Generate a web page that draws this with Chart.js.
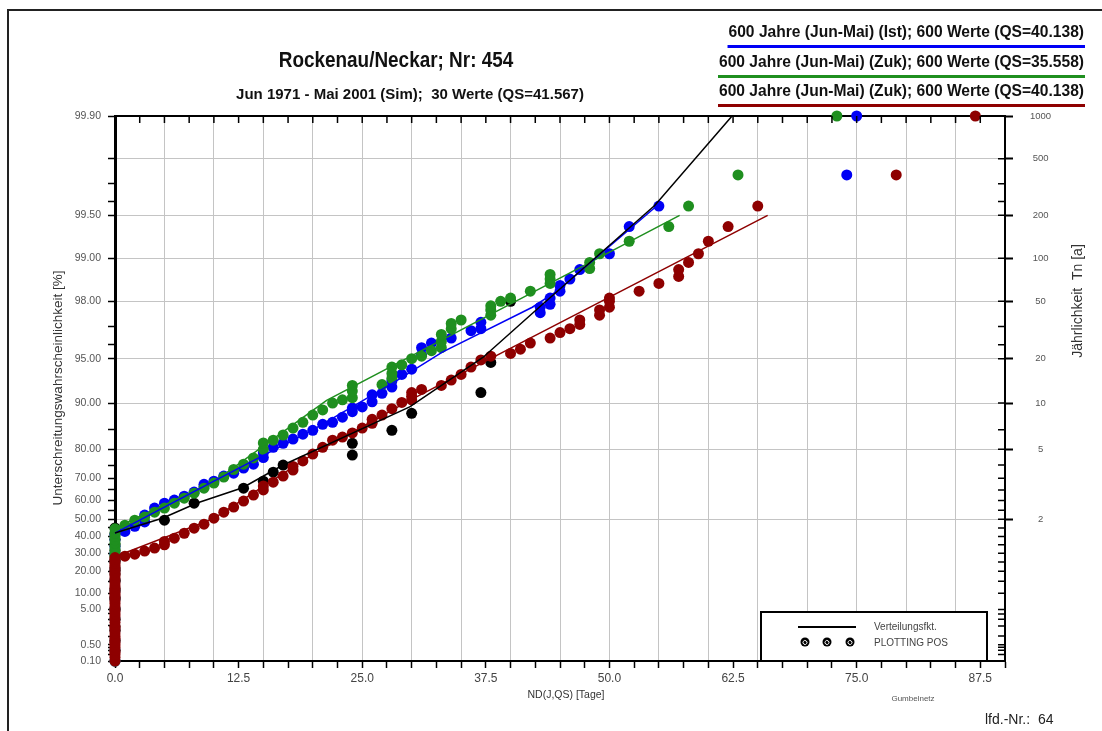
<!DOCTYPE html>
<html>
<head>
<meta charset="utf-8">
<script src="https://cdn.jsdelivr.net/npm/chart.js@4.4.0/dist/chart.umd.min.js"></script>
<style>
  html, body { margin: 0; padding: 0; background: #fff; }
  #wrap { position: relative; width: 1102px; height: 731px; }
</style>
</head>
<body>
<div id="wrap"><canvas id="gumbelCanvas" width="1102" height="731"></canvas></div>
<script>
// probability axis (Unterschreitungswahrscheinlichkeit, %)
const probTicks = [0.1, 0.2, 0.3, 0.4, 0.5, 1, 2, 3, 4, 5, 10, 15, 20, 25, 30, 35, 40, 45, 50,
  55, 60, 65, 70, 75, 80, 85, 90, 95, 96, 97, 98, 99, 99.5, 99.6, 99.7, 99.8, 99.9];
const probLabels = [0.1, 0.5, 5, 10, 20, 30, 40, 50, 60, 70, 80, 90, 95, 98, 99, 99.5, 99.9];
const gridProbs = [50, 80, 90, 95, 98, 99, 99.5, 99.8];
// Jaehrlichkeit axis
const returnProbs = [50, 80, 90, 95, 98, 99, 99.5, 99.8, 99.9];
const returnLabels = ['2', '5', '10', '20', '50', '100', '200', '500', '1000'];

// Sim 1971-2001, 30 Werte (black)
const simZeroProbs = [1.9, 5.2, 8.5, 11.8, 15.2, 18.5, 21.8, 25.1, 28.5, 31.8, 35.1, 38.4, 41.7, 45.0];
const simDays  = [5, 8, 13, 15, 16, 17, 24, 24, 28, 30, 37, 38, 40];
const simProbs = [49.5, 58.6, 65.8, 68.8, 72.4, 75.0, 78.3, 81.7, 84.9, 88.3, 91.5, 94.7, 98.0];
const simFitDays  = [0, 4.85, 8.3, 12.9, 17, 29.8, 37.2, 42.9, 54.6, 62.4];
const simFitProbs = [42, 50.7, 58.7, 66.0, 75.0, 89.4, 95.1, 97.8, 99.575, 99.9];

// 600 Jahre (Ist) (blue)
const istZeroProbs = [0.1, 0.3, 0.7, 1.5, 3, 5, 8, 11, 15.5, 20.5, 26, 30, 34, 38, 41];
const istDays  = [1, 2, 3, 3, 4, 5, 6, 7, 8, 9, 9, 10, 11, 12, 13, 14, 15, 15, 16, 17, 18, 19, 20,
  21, 22, 23, 24, 24, 25, 26, 26, 27, 28, 28, 29, 30, 31, 31, 32, 34, 36, 37, 37, 43, 43, 44, 44,
  45, 45, 46, 47, 50, 52, 55, 74, 75];
const istProbs = [43.0, 46.0, 48.5, 52.3, 56.1, 58.6, 60.2, 62.1, 64.0, 66.5, 67.5, 68.8, 70.9, 72.0,
  73.9, 75.3, 77.5, 79.0, 80.6, 81.7, 82.8, 84.0, 84.9, 86.2, 86.6, 87.6, 88.6, 89.2, 89.4, 90.2,
  91.2, 91.4, 92.2, 92.9, 93.6, 94.1, 95.3, 95.8, 96.1, 96.4, 96.8, 96.9, 97.2, 97.6, 97.8, 97.9,
  98.1, 98.3, 98.45, 98.6, 98.8, 99.07, 99.40, 99.57, 99.74, 99.9];
const istFitDays  = [0, 10, 20, 28, 33.1, 42.2, 44.7, 54.6];
const istFitProbs = [42, 68.8, 85, 92.6, 95.5, 97.8, 98.3, 99.56];

// 600 Jahre (Zuk) QS=35.558 (green)
const zuk1ZeroProbs = [0.1, 0.3, 0.7, 1.5, 3, 5, 8, 11, 15.5, 20.5, 26, 28, 30, 32, 34, 36, 38,
  40, 42, 44.5];
const zuk1Days  = [1, 2, 3, 4, 5, 6, 7, 8, 9, 10, 11, 12, 13, 14, 15, 15, 16, 17, 18, 19, 20, 21,
  22, 23, 24, 24, 24, 27, 28, 28, 28, 29, 30, 31, 32, 33, 33, 33, 34, 34, 35, 38, 38, 38, 39, 40,
  42, 44, 44, 44, 48, 48, 49, 52, 56, 58, 63, 73];
const zuk1Probs = [46.6, 49.5, 51.2, 53.9, 56.1, 58.6, 61.1, 63.5, 65.8, 68.0, 70.5, 73.4, 75.3, 77.4,
  80.0, 81.8, 82.5, 83.8, 85.4, 86.6, 88.0, 88.9, 90.0, 90.5, 90.8, 91.7, 92.4, 92.5, 93.2, 93.7,
  94.3, 94.5, 95.0, 95.2, 95.6, 95.8, 96.2, 96.6, 96.9, 97.15, 97.3, 97.5, 97.7, 97.85, 98.0, 98.1,
  98.3, 98.5, 98.6, 98.7, 98.82, 98.93, 99.07, 99.24, 99.40, 99.57, 99.74, 99.9];
const zuk1FitDays  = [0, 10, 21.4, 57.1];
const zuk1FitProbs = [45, 68.5, 90.4, 99.5];

// 600 Jahre (Zuk) QS=40.138 (dark red)
const zuk2ZeroProbs = [0.1, 0.15, 0.2, 0.25, 0.3, 0.4, 0.5, 0.6, 0.7, 0.85, 1, 1.25, 1.5, 1.75, 2,
  2.5, 3, 3.5, 4, 4.5, 5, 5.7, 6.5, 7.2, 8, 8.7, 9.5, 10.2, 11, 12, 13, 14.2, 15.5, 16.7, 18, 19.2,
  20.5, 21.7, 23, 24.2, 25.5, 26.5, 27.5];
const zuk2Days  = [1, 2, 3, 4, 5, 5, 6, 7, 8, 9, 10, 11, 12, 13, 14, 15, 15, 16, 17, 18, 18, 19, 20,
  21, 22, 23, 24, 25, 26, 26, 27, 28, 29, 30, 30, 30, 31, 33, 34, 35, 36, 37, 38, 40, 41, 42, 44,
  45, 46, 47, 47, 49, 49, 50, 50, 50, 53, 55, 57, 57, 58, 59, 60, 62, 65, 79, 87];
const zuk2Probs = [28.3, 29.5, 31.3, 33.1, 35.0, 37.0, 39.0, 41.9, 44.9, 47.2, 50.6, 53.9, 56.6, 59.7,
  62.6, 65.0, 66.8, 68.4, 70.9, 73.2, 74.5, 76.4, 78.6, 80.6, 82.5, 83.3, 84.3, 85.4, 86.4, 87.2,
  88.0, 89.1, 90.1, 90.5, 91.0, 91.5, 91.9, 92.4, 93.0, 93.6, 94.3, 94.9, 95.2, 95.4, 95.7, 96.1,
  96.4, 96.7, 96.9, 97.1, 97.3, 97.5, 97.7, 97.8, 98.0, 98.1, 98.3, 98.5, 98.66, 98.8, 98.93, 99.07,
  99.24, 99.40, 99.57, 99.74, 99.9];
const zuk2FitDays  = [0, 10, 20, 29.8, 66];
const zuk2FitProbs = [28, 50.5, 78.5, 90.4, 99.5];

const toPoints = (days, probs) => days.map((d, i) => ({ x: d, y: probs[i] }));
const zeroColumn = probs => probs.map(p => ({ x: 0, y: p }));

const BLUE = '#0000f5';
const GREEN = '#1f8f1f';
const RED = '#8e0000';
const BLACK = '#000000';

/**
 * Gumbel probability scale: value in % -> reduced variate -ln(-ln(P))
 */
const gumbel = p => -Math.log(-Math.log(p / 100));

class GumbelScale extends Chart.Scale {
  determineDataLimits() {
    this.min = this.options.min;
    this.max = this.options.max;
  }
  buildTicks() {
    return probTicks.map(value => ({ value }));
  }
  configure() {
    super.configure();
    this._gLo = gumbel(this.min);
    this._gHi = gumbel(this.max);
  }
  getPixelForValue(value) {
    return this.getPixelForDecimal((gumbel(value) - this._gLo) / (this._gHi - this._gLo));
  }
  getValueForPixel(pixel) {
    const g = this._gLo + this.getDecimalForPixel(pixel) * (this._gHi - this._gLo);
    return 100 * Math.exp(-Math.exp(-g));
  }
  getLabelForValue(value) {
    return String(value);
  }
}
GumbelScale.id = 'gumbel';
GumbelScale.defaults = {};
Chart.register(GumbelScale);

const dots = (data, color, order) => ({
  data,
  backgroundColor: color,
  borderColor: color,
  borderWidth: 0,
  pointRadius: 5.5,
  pointHoverRadius: 5.5,
  showLine: false,
  clip: false,
  order,
});

const fitLine = (data, color, order) => ({
  data,
  borderColor: color,
  borderWidth: 1.5,
  pointRadius: 0,
  showLine: true,
  fill: false,
  tension: 0,
  clip: false,
  order,
});

/* frame, inner ticks, titles and the small legend box */
const gumbelDecor = {
  id: 'gumbelDecor',
  beforeDraw(chart) {
    const { ctx, width, height } = chart;
    ctx.save();
    ctx.fillStyle = '#fff';
    ctx.fillRect(0, 0, width, height);
    ctx.strokeStyle = '#222';
    ctx.lineWidth = 2;
    ctx.beginPath();
    ctx.moveTo(8, height);
    ctx.lineTo(8, 10);
    ctx.lineTo(width, 10);
    ctx.stroke();
    ctx.restore();
  },
  afterDraw(chart) {
    const { ctx, chartArea } = chart;
    const { left, right, top, bottom } = chartArea;
    const top2 = chart.scales.x2;
    const right2 = chart.scales.y2;
    ctx.save();

    // inward ticks on top and right axes
    ctx.strokeStyle = '#000';
    ctx.lineWidth = 1.5;
    ctx.beginPath();
    top2.ticks.forEach(t => {
      const px = top2.getPixelForValue(t.value);
      if (px <= left + 1 || px >= right - 1) return;
      ctx.moveTo(px, top);
      ctx.lineTo(px, top + 7);
    });
    right2.ticks.forEach(t => {
      const py = right2.getPixelForValue(t.value);
      ctx.moveTo(right - 7, py);
      ctx.lineTo(right, py);
    });
    ctx.stroke();

    // titles
    ctx.fillStyle = '#111';
    ctx.textAlign = 'center';
    ctx.textBaseline = 'middle';
    ctx.save();
    ctx.translate(396, 61);
    ctx.scale(0.86, 1);
    ctx.font = 'bold 22px "Liberation Sans", Arial, sans-serif';
    ctx.fillText('Rockenau/Neckar; Nr: 454', 0, 0);
    ctx.restore();
    ctx.font = 'bold 15px "Liberation Sans", Arial, sans-serif';
    ctx.fillText('Jun 1971 - Mai 2001 (Sim);  30 Werte (QS=41.567)', 410, 95);

    // series legend top right
    const legendRows = [
      ['600 Jahre (Jun-Mai) (Ist); 600 Werte (QS=40.138)', BLUE, 33],
      ['600 Jahre (Jun-Mai) (Zuk); 600 Werte (QS=35.558)', GREEN, 63],
      ['600 Jahre (Jun-Mai) (Zuk); 600 Werte (QS=40.138)', RED, 92],
    ];
    ctx.font = 'bold 15.6px "Liberation Sans", Arial, sans-serif';
    ctx.textAlign = 'right';
    legendRows.forEach(([text, color, y]) => {
      ctx.fillStyle = '#111';
      ctx.fillText(text, 1084, y);
      const w = ctx.measureText(text).width;
      ctx.fillStyle = color;
      ctx.fillRect(1084 - w - 1, y + 12, w + 2, 3);
    });

    // axis titles
    ctx.fillStyle = '#333';
    ctx.textAlign = 'center';
    ctx.font = '10.5px "Liberation Sans", Arial, sans-serif';
    ctx.fillText('ND(J,QS) [Tage]', 566, 695);
    ctx.font = '13.5px "Liberation Sans", Arial, sans-serif';
    ctx.save();
    ctx.translate(58, 388);
    ctx.rotate(-Math.PI / 2);
    ctx.fillText('Unterschreitungswahrscheinlichkeit [%]', 0, 0);
    ctx.restore();
    ctx.save();
    ctx.translate(1078, 301);
    ctx.rotate(-Math.PI / 2);
    ctx.font = '14px "Liberation Sans", Arial, sans-serif';
    ctx.fillText('J\u00e4hrlichkeit  Tn [a]', 0, 0);
    ctx.restore();

    ctx.font = '8px "Liberation Sans", Arial, sans-serif';
    ctx.fillStyle = '#555';
    ctx.fillText('Gumbelnetz', 913, 699);
    ctx.font = '14px "Liberation Sans", Arial, sans-serif';
    ctx.fillStyle = '#222';
    ctx.textAlign = 'left';
    ctx.fillText('lfd.-Nr.:  64', 985, 720);

    // legend box
    ctx.fillStyle = '#fff';
    ctx.fillRect(761, 612, 226, bottom - 612);
    ctx.strokeStyle = '#000';
    ctx.lineWidth = 2;
    ctx.strokeRect(761, 612, 226, bottom - 612);
    ctx.lineWidth = 2;
    ctx.beginPath();
    ctx.moveTo(798, 627);
    ctx.lineTo(856, 627);
    ctx.stroke();
    [805, 827, 850].forEach(cx => {
      ctx.fillStyle = '#000';
      ctx.beginPath();
      ctx.arc(cx, 642, 4.5, 0, Math.PI * 2);
      ctx.fill();
      ctx.strokeStyle = '#fff';
      ctx.lineWidth = 1;
      ctx.beginPath();
      ctx.arc(cx, 642.5, 2, 0.2 * Math.PI, 2.8 * Math.PI);
      ctx.stroke();
    });
    ctx.fillStyle = '#444';
    ctx.font = '10px "Liberation Sans", Arial, sans-serif';
    ctx.fillText('Verteilungsfkt.', 874, 627);
    ctx.fillText('PLOTTING POS', 874, 643);

    ctx.restore();
  },
};

const tickFont = { family: '"Liberation Sans", Arial, sans-serif', size: 10.5 };

const chart = new Chart(document.getElementById('gumbelCanvas'), {
  type: 'scatter',
  data: {
    datasets: [
      fitLine(toPoints(simFitDays, simFitProbs), BLACK, 0),
      fitLine(toPoints(istFitDays, istFitProbs), BLUE, 1),
      fitLine(toPoints(zuk1FitDays, zuk1FitProbs), GREEN, 2),
      fitLine(toPoints(zuk2FitDays, zuk2FitProbs), RED, 3),
      dots([...zeroColumn(zuk2ZeroProbs), ...toPoints(zuk2Days, zuk2Probs)], RED, 4),
      dots([...zeroColumn(zuk1ZeroProbs), ...toPoints(zuk1Days, zuk1Probs)], GREEN, 5),
      dots([...zeroColumn(istZeroProbs), ...toPoints(istDays, istProbs)], BLUE, 6),
      dots([...zeroColumn(simZeroProbs), ...toPoints(simDays, simProbs)], BLACK, 7),
    ],
  },
  options: {
    responsive: false,
    animation: false,
    layout: { padding: 0 },
    plugins: { legend: { display: false }, tooltip: { enabled: false } },
    scales: {
      x: {
        type: 'linear',
        position: 'bottom',
        min: 0,
        max: 90,
        afterFit(scale) { scale.height = 70; },
        ticks: {
          stepSize: 2.5,
          autoSkip: false,
          maxRotation: 0,
          padding: 3,
          color: '#444',
          font: { family: tickFont.family, size: 12 },
          callback: v => (v % 12.5 === 0 && v < 90 ? v.toFixed(1) : ''),
        },
        grid: {
          color: ctx => (ctx.tick && ctx.tick.value % 5 === 0 && ctx.tick.value > 0 && ctx.tick.value < 90
            ? '#c4c4c4' : 'rgba(0,0,0,0)'),
          lineWidth: 1,
          tickColor: '#000',
          tickWidth: 1.5,
          tickLength: 7,
        },
        border: { color: '#000', width: 2 },
      },
      x2: {
        type: 'linear',
        position: 'top',
        min: 0,
        max: 90,
        afterFit(scale) { scale.height = 116; },
        ticks: { display: false, stepSize: 2.5, autoSkip: false },
        grid: { drawOnChartArea: false, drawTicks: false },
        border: { color: '#000', width: 2 },
      },
      y: {
        type: 'gumbel',
        position: 'left',
        min: 0.1,
        max: 99.9,
        afterFit(scale) { scale.width = 115; },
        ticks: {
          autoSkip: false,
          padding: 7,
          color: '#555',
          font: tickFont,
          callback: v => (probLabels.includes(v) ? v.toFixed(2) : ''),
        },
        grid: {
          color: ctx => (ctx.tick && gridProbs.includes(ctx.tick.value) ? '#c4c4c4' : 'rgba(0,0,0,0)'),
          lineWidth: 1,
          tickColor: '#000',
          tickWidth: 1.5,
          tickLength: 7,
        },
        border: { color: '#000', width: 3 },
      },
      y2: {
        type: 'gumbel',
        position: 'right',
        min: 0.1,
        max: 99.9,
        afterFit(scale) { scale.width = 97; },
        ticks: {
          autoSkip: false,
          padding: 17,
          crossAlign: 'center',
          color: '#555',
          font: { family: tickFont.family, size: 9.5 },
          callback: v => {
            const i = returnProbs.indexOf(v);
            return i >= 0 ? returnLabels[i] : '';
          },
        },
        grid: {
          drawOnChartArea: false,
          tickColor: ctx => (ctx.tick && returnProbs.includes(ctx.tick.value) ? '#000' : 'rgba(0,0,0,0)'),
          tickWidth: 2,
          tickLength: 8,
        },
        border: { color: '#000', width: 2 },
      },
    },
  },
  plugins: [gumbelDecor],
});
</script>
</body>
</html>
